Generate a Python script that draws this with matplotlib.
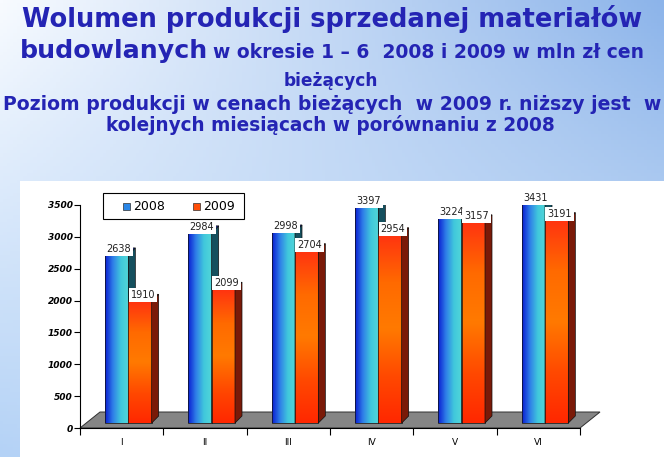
import numpy as np
import matplotlib
matplotlib.use('Agg')
import matplotlib.pyplot as plt
from matplotlib.patches import Rectangle, Polygon
from matplotlib.transforms import offset_copy
from matplotlib.colors import LinearSegmentedColormap, to_rgb

# data
months = ['I', 'II', 'III', 'IV', 'V', 'VI']
series_names = ['2008', '2009']
val_2008 = [2638, 2984, 2998, 3397, 3224, 3431]
val_2009 = [1910, 2099, 2704, 2954, 3157, 3191]
yticks = [0, 500, 1000, 1500, 2000, 2500, 3000, 3500]

W, H = 664, 457
TitleBlue = '#2424b4'


def fx(px):
    return px / W


def fy(py):
    return 1 - py / H


fig = plt.figure(figsize=(W / 100, H / 100), dpi=100)

# background: slide gradient
bg = fig.add_axes([0, 0, 1, 1], zorder=-10)
tl, tr = np.array(to_rgb('#f8fbff')), np.array(to_rgb('#8cb4ea'))
bl, br = np.array(to_rgb('#b4d2f6')), np.array(to_rgb('#d8e8fa'))
u = np.linspace(0, 1, 200)[None, :, None]
v = np.linspace(0, 1, 140)[:, None, None]
img = (1 - v) * ((1 - u) * tl + u * tr) + v * ((1 - u) * bl + u * br)
bg.imshow(img, extent=(0, 1, 0, 1), aspect='auto', origin='upper')
bg.set_xlim(0, 1)
bg.set_ylim(0, 1)
bg.axis('off')
bg.add_patch(Rectangle((fx(20), 0), 1 - fx(20), fy(181), facecolor='white',
                       edgecolor='none', transform=fig.transFigure))


# title: each line scaled so it spans the same width as in the slide
def title_line(txt, x0, x1, yb):
    t = fig.text(fx(x0), fy(yb), txt, ha='left', va='baseline', fontsize=10,
                 fontweight='bold', color=TitleBlue, family='DejaVu Sans')
    fig.canvas.draw()
    w = t.get_window_extent().width
    t.set_fontsize(10 * (x1 - x0) / w)
    return t


title_line('Wolumen produkcji sprzedanej materiałów', 22, 642, 27)
title_line('budowlanych', 20, 208, 58)
title_line('w okresie 1 – 6  2008 i 2009 w mln zł cen', 213, 645, 58)
title_line('bieżących', 284, 378, 86)
title_line('Poziom produkcji w cenach bieżących  w 2009 r. niższy jest  w', 3, 660, 110)
title_line('kolejnych miesiącach w porównaniu z 2008', 106, 556, 131)

# chart axes
ax = fig.add_axes([fx(80), fy(428), 500 / W, 223 / H])
ax.set_xlim(0, len(months))
ax.set_ylim(0, 3500)
ax.patch.set_visible(False)

px_x = 500 / len(months)
px_y = 223 / 3500
bar_w = 0.28
bar_off = 0.30
dx, dy = 7 / px_x, 7 / px_y
shifted = offset_copy(ax.transData, fig=fig, x=0, y=5, units='dots')

# floor
fdx, fdy = 20 / px_x, 16 / px_y
ax.add_patch(Polygon([(0, 0), (len(months), 0), (len(months) + fdx, fdy), (fdx, fdy)],
                     closed=True, facecolor='#858585', edgecolor='#303030',
                     linewidth=0.7, zorder=1, clip_on=False))

cmap_blue = LinearSegmentedColormap.from_list('b', ['#0a1ed2', '#2f7fe8', '#40c8dc', '#52d6d8'])
cmap_red = LinearSegmentedColormap.from_list('r', ['#ff3410', '#ff6a00', '#ff7a00', '#ff4a00', '#ff2800'])
grad_h = cmap_blue(np.linspace(0, 1, 64))[None, :, :3]
grad_v = cmap_red(np.linspace(0, 1, 64))[:, None, :3]

styles = [
    dict(grad=grad_h, side='#15505e', top='#1a2a9a'),
    dict(grad=grad_v, side='#7a1a08', top='#b02a0c'),
]

z = 3
for i in range(len(months)):
    for s, vals in enumerate([val_2008, val_2009]):
        val = vals[i]
        x0 = i + bar_off + s * bar_w
        x1 = x0 + bar_w
        st = styles[s]
        ax.imshow(st['grad'], extent=(x0, x1, 0, val), transform=shifted,
                  aspect='auto', interpolation='bilinear', zorder=z)
        ax.add_patch(Rectangle((x0, 0), bar_w, val, fill=False, edgecolor='#101010',
                               linewidth=0.5, transform=shifted, zorder=z + 0.1))
        ax.add_patch(Polygon([(x1, 0), (x1 + dx, dy), (x1 + dx, val + dy), (x1, val)],
                             closed=True, facecolor=st['side'], edgecolor='#101010',
                             linewidth=0.5, transform=shifted, zorder=z + 0.1))
        ax.add_patch(Polygon([(x0, val), (x1, val), (x1 + dx, val + dy), (x0 + dx, val + dy)],
                             closed=True, facecolor=st['top'], edgecolor='#101010',
                             linewidth=0.5, transform=shifted, zorder=z + 0.1))
        z += 1

# value labels
for s, vals in enumerate([val_2008, val_2009]):
    lab_tr = offset_copy(ax.transData, fig=fig, x=2 + s, y=11, units='dots')
    for i in range(len(months)):
        xc = i + bar_off + s * bar_w + bar_w / 2
        ax.text(xc, vals[i], str(vals[i]), transform=lab_tr, ha='center', va='center',
                fontsize=7, color='#202020', zorder=50 + s,
                bbox=dict(facecolor='white', edgecolor='none', pad=1.5))

# axes formatting
for side in ['top', 'right']:
    ax.spines[side].set_visible(False)
for side in ['left', 'bottom']:
    ax.spines[side].set_linewidth(0.8)
    ax.spines[side].set_zorder(60)
ax.set_yticks(yticks)
ax.set_yticklabels([str(t) for t in yticks], fontsize=6.5, fontweight='bold', style='italic')
ax.tick_params(axis='y', length=4, width=0.8, pad=1)
ax.set_xticks(np.arange(len(months) + 1))
ax.set_xticklabels([])
ax.set_xticks(np.arange(len(months)) + 0.5, minor=True)
ax.set_xticklabels(months, minor=True, fontsize=6.5)
ax.tick_params(axis='x', which='major', length=5, width=0.8)
ax.tick_params(axis='x', which='minor', length=0, pad=7)

# legend
lx0, ly0, lx1, ly1 = 103, 193, 244, 219
fig.patches.append(Rectangle((fx(lx0), fy(ly1)), (lx1 - lx0) / W, (ly1 - ly0) / H,
                             facecolor='white', edgecolor='black', linewidth=0.8,
                             transform=fig.transFigure, zorder=70))
leg_colors = ['#2a86e6', '#ff4e08']
for k, name in enumerate(series_names):
    mx = 123 + k * 70
    fig.patches.append(Rectangle((fx(mx), fy(210)), 7 / W, 7 / H, facecolor=leg_colors[k],
                                 edgecolor='#303030', linewidth=0.5,
                                 transform=fig.transFigure, zorder=71))
    fig.text(fx(mx + 10), fy(206), name, ha='left', va='center', fontsize=9,
             color='black', zorder=72)

fig.savefig('out.png', dpi=100)
